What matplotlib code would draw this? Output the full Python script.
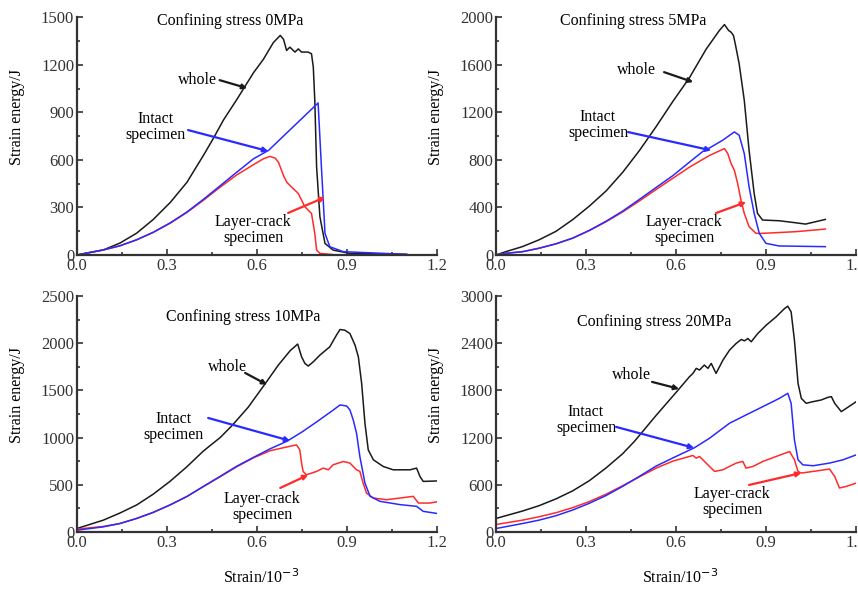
import numpy as np
import matplotlib
matplotlib.use('Agg')
import matplotlib.pyplot as plt

plt.rcParams['font.family'] = ['Liberation Serif', 'DejaVu Serif']

# ---- confining stress 0 MPa ----
s0_whole_x = [0, 0.03, 0.088, 0.143, 0.199, 0.254, 0.31, 0.366, 0.421, 0.454, 0.488, 0.532, 0.56,
              0.588, 0.621, 0.654, 0.677, 0.688, 0.698, 0.709, 0.726, 0.737, 0.748, 0.77, 0.781,
              0.787, 0.792, 0.798, 0.809, 0.826, 0.853, 0.909, 1.098]
s0_whole_y = [0, 12, 32, 75, 138, 224, 330, 458, 628, 735, 852, 980, 1065,
              1150, 1235, 1340, 1385, 1360, 1290, 1311, 1280, 1300, 1280, 1280, 1269,
              1185, 975, 556, 241, 73, 31, 10, 4]
s0_intact_x = [0, 0.032, 0.088, 0.143, 0.199, 0.254, 0.31, 0.366, 0.421, 0.477, 0.532, 0.588,
               0.638, 0.803, 0.814, 0.826, 0.842, 0.887, 1.098]
s0_intact_y = [0, 11, 32, 58, 96, 143, 202, 271, 351, 437, 522, 607,
               660, 959, 556, 136, 52, 21, 4]
s0_crack_x = [0, 0.032, 0.088, 0.143, 0.199, 0.254, 0.31, 0.366, 0.421, 0.477, 0.532, 0.588,
              0.621, 0.643, 0.66, 0.671, 0.688, 0.699, 0.714, 0.737, 0.759, 0.781, 0.792, 0.798,
              0.809, 0.85]
s0_crack_y = [0, 11, 32, 58, 96, 143, 200, 268, 345, 428, 505, 570,
              607, 622, 611, 585, 500, 458, 430, 388, 304, 262, 136, 31,
              10, 3]

# ---- confining stress 5 MPa ----
s5_whole_x = [0, 0.033, 0.089, 0.144, 0.2, 0.256, 0.311, 0.367, 0.422, 0.478, 0.533, 0.589, 0.644,
              0.7, 0.744, 0.761, 0.775, 0.783, 0.791, 0.797, 0.81, 0.827, 0.843, 0.86, 0.871,
              0.888, 0.943, 0.998, 1.031, 1.097]
s5_whole_y = [0, 28, 71, 128, 199, 298, 411, 539, 695, 879, 1078, 1291, 1489,
              1731, 1888, 1938, 1888, 1874, 1846, 1776, 1608, 1301, 881, 517, 350,
              294, 288, 271, 260, 299]
s5_intact_x = [0, 0.033, 0.089, 0.144, 0.2, 0.256, 0.311, 0.367, 0.422, 0.478, 0.533, 0.589,
               0.644, 0.689, 0.711, 0.755, 0.794, 0.81, 0.827, 0.843, 0.86, 0.877, 0.899,
               0.943, 1.097]
s5_intact_y = [0, 14, 28, 57, 94, 142, 207, 284, 369, 468, 567, 667,
               780, 871, 900, 965, 1035, 1007, 853, 573, 350, 182, 98,
               76, 70]
s5_crack_x = [0, 0.033, 0.089, 0.144, 0.2, 0.256, 0.311, 0.367, 0.422, 0.478, 0.533, 0.589,
              0.644, 0.711, 0.761, 0.772, 0.783, 0.794, 0.805, 0.816, 0.827, 0.843, 0.866,
              0.888, 0.998, 1.097]
s5_crack_y = [0, 14, 28, 57, 94, 142, 205, 280, 362, 455, 550, 645,
              738, 837, 895, 853, 769, 713, 601, 461, 350, 238, 182,
              182, 196, 218]

# ---- confining stress 10 MPa ----
s10_whole_x = [0, 0.088, 0.143, 0.199, 0.254, 0.31, 0.366, 0.421, 0.477, 0.516, 0.57, 0.627,
               0.67, 0.71, 0.735, 0.748, 0.759, 0.77, 0.787, 0.809, 0.842, 0.864, 0.876, 0.892,
               0.909, 0.926, 0.937, 0.948, 0.959, 0.97, 0.987, 1.02, 1.053, 1.109, 1.131, 1.142,
               1.153, 1.2]
s10_whole_y = [36, 125, 200, 286, 400, 536, 690, 857, 1000, 1125, 1320, 1571,
               1765, 1920, 1990, 1855, 1785, 1757, 1802, 1873, 1961, 2084, 2144, 2137,
               2101, 1978, 1855, 1573, 1151, 869, 764, 693, 658, 658, 676, 588,
               535, 540]
s10_intact_x = [0, 0.088, 0.143, 0.199, 0.254, 0.31, 0.366, 0.421, 0.477, 0.532, 0.588, 0.643,
                0.699, 0.75, 0.798, 0.853, 0.876, 0.898, 0.909, 0.92, 0.931, 0.942, 0.959,
                0.976, 1.009, 1.076, 1.131, 1.153, 1.2]
s10_intact_y = [18, 54, 89, 143, 207, 286, 375, 482, 589, 696, 790, 880,
                960, 1060, 1165, 1290, 1345, 1334, 1292, 1186, 1045, 799, 517,
                377, 324, 289, 271, 218, 195]
s10_crack_x = [0, 0.088, 0.143, 0.199, 0.254, 0.31, 0.366, 0.421, 0.477, 0.532, 0.588, 0.643,
               0.699, 0.731, 0.742, 0.748, 0.753, 0.764, 0.798, 0.82, 0.837, 0.853, 0.887,
               0.909, 0.931, 0.942, 0.953, 0.964, 0.987, 1.031, 1.076, 1.12, 1.137, 1.176, 1.2]
s10_crack_y = [30, 58, 89, 143, 207, 286, 375, 480, 585, 690, 785, 860,
               900, 922, 869, 729, 641, 605, 641, 676, 658, 711, 746,
               729, 658, 641, 517, 412, 359, 341, 359, 377, 306, 306, 320]

# ---- confining stress 20 MPa ----
s20_whole_x = [0, 0.089, 0.144, 0.2, 0.256, 0.311, 0.367, 0.422, 0.461, 0.533, 0.606, 0.644,
               0.656, 0.667, 0.678, 0.694, 0.706, 0.717, 0.733, 0.756, 0.778, 0.8, 0.817, 0.828,
               0.839, 0.85, 0.872, 0.9, 0.933, 0.961, 0.972, 0.983, 0.994, 1.006, 1.017, 1.033,
               1.056, 1.083, 1.106, 1.117, 1.128, 1.15, 1.167, 1.2]
s20_whole_y = [171, 266, 334, 420, 523, 651, 814, 994, 1150, 1479, 1800, 1971,
               2015, 2079, 2058, 2121, 2079, 2142, 2015, 2184, 2311, 2396, 2446, 2429,
               2459, 2417, 2522, 2628, 2734, 2839, 2869, 2797, 2438, 1889, 1698, 1635,
               1656, 1677, 1711, 1720, 1635, 1529, 1572, 1656]
s20_intact_x = [0, 0.089, 0.144, 0.2, 0.256, 0.311, 0.367, 0.422, 0.478, 0.533, 0.589, 0.661,
                0.711, 0.778, 0.833, 0.889, 0.944, 0.972, 0.983, 0.994, 1.006, 1.022, 1.056,
                1.111, 1.156, 1.2]
s20_intact_y = [43, 107, 150, 206, 279, 364, 463, 579, 707, 836, 940, 1070,
                1190, 1382, 1487, 1593, 1698, 1762, 1635, 1170, 917, 853, 841,
                875, 917, 980]
s20_crack_x = [0, 0.089, 0.144, 0.2, 0.256, 0.311, 0.367, 0.422, 0.478, 0.533, 0.589, 0.656,
               0.667, 0.678, 0.7, 0.728, 0.756, 0.8, 0.822, 0.833, 0.856, 0.889, 0.933, 0.978,
               0.994, 1.006, 1.017, 1.056, 1.111, 1.128, 1.144, 1.167, 1.2]
s20_crack_y = [94, 150, 193, 244, 309, 386, 480, 587, 700, 810, 900, 972,
               938, 959, 875, 769, 790, 875, 896, 811, 832, 896, 959, 1022,
               917, 769, 748, 769, 799, 706, 558, 579, 621]

titles = ['Confining stress 0MPa', 'Confining stress 5MPa',
          'Confining stress 10MPa', 'Confining stress 20MPa']
ymax = [1500, 2000, 2500, 3000]
ystep = [300, 400, 500, 600]

c_whole = '#1a1a1a'
c_intact = '#2a2aff'
c_crack = '#ff2a2a'

fig = plt.figure(figsize=(8.58, 5.93), dpi=100)
pos = [[0.0897, 0.570, 0.42, 0.401], [0.578, 0.570, 0.42, 0.401],
       [0.0897, 0.103, 0.42, 0.398], [0.578, 0.103, 0.42, 0.398]]

data = [(s0_whole_x, s0_whole_y, s0_intact_x, s0_intact_y, s0_crack_x, s0_crack_y),
        (s5_whole_x, s5_whole_y, s5_intact_x, s5_intact_y, s5_crack_x, s5_crack_y),
        (s10_whole_x, s10_whole_y, s10_intact_x, s10_intact_y, s10_crack_x, s10_crack_y),
        (s20_whole_x, s20_whole_y, s20_intact_x, s20_intact_y, s20_crack_x, s20_crack_y)]

# annotation layout per panel: (text xy, arrow start, arrow tip) in data coords
notes = [
    [((0.403, 1103), (0.475, 1103), (0.567, 1052)),
     ((0.26, 807), (0.37, 788), (0.637, 655)),
     ((0.587, 158), (0.703, 265), (0.827, 365))],
    [((0.467, 1555), (0.56, 1538), (0.657, 1454)),
     ((0.34, 1092), (0.44, 1034), (0.717, 880)),
     ((0.627, 210), (0.733, 353), (0.833, 445))],
    [((0.5, 1747), (0.56, 1684), (0.633, 1560)),
     ((0.32, 1112), (0.437, 1207), (0.71, 965)),
     ((0.617, 265), (0.677, 466), (0.77, 604))],
    [((0.453, 1996), (0.52, 1907), (0.61, 1818)),
     ((0.3, 1424), (0.4, 1335), (0.66, 1068)),
     ((0.787, 381), (0.843, 597), (1.017, 750))],
]
title_pos = [(0.425, 0.985), (0.38, 0.985), (0.461, 0.91), (0.439, 0.89)]

for i in range(4):
    ax = fig.add_axes(pos[i])
    wx, wy, ix, iy, cx, cy = data[i]
    ax.plot(wx, wy, color=c_whole, lw=1.1)
    ax.plot(cx, cy, color=c_crack, lw=1.1)
    ax.plot(ix, iy, color=c_intact, lw=1.1)
    ax.set_xlim(0, 1.2)
    ax.set_ylim(0, ymax[i])
    ax.set_xticks([0, 0.3, 0.6, 0.9, 1.2])
    ax.set_xticklabels(['0.0', '0.3', '0.6', '0.9', '1.2'])
    ax.set_xticks(np.arange(0.15, 1.2, 0.3), minor=True)
    ax.set_yticks(np.arange(0, ymax[i] + 1, ystep[i]))
    ax.set_yticks(np.arange(ystep[i] / 2, ymax[i], ystep[i]), minor=True)
    ax.spines['top'].set_visible(False)
    ax.spines['right'].set_visible(False)
    for s in ['left', 'bottom']:
        ax.spines[s].set_linewidth(1.6)
        ax.spines[s].set_color('#333333')
    ax.tick_params(which='major', direction='in', length=4, width=1.2, labelsize=12, pad=2,
                   colors='#333333')
    ax.tick_params(which='minor', direction='in', length=2.5, width=1.2, colors='#333333')
    ax.set_ylabel('Strain energy/J', fontsize=11.5)
    ax.yaxis.set_label_coords(-0.145, 0.58)
    if i >= 2:
        ax.set_xlabel('Strain/10$^{-3}$', fontsize=11.5)
        ax.xaxis.set_label_coords(0.51, -0.155)
    ax.text(title_pos[i][0], title_pos[i][1], titles[i], transform=ax.transAxes,
            ha='center', va='center', fontsize=11.5)

    labels = ['whole', 'Intact\nspecimen', 'Layer-crack\nspecimen']
    colors = [c_whole, c_intact, c_crack]
    for (txy, start, tip), lab, col in zip(notes[i], labels, colors):
        ax.text(txy[0], txy[1], lab, ha='center', va='center', fontsize=11.5,
                linespacing=1.0)
        ax.annotate('', xy=tip, xytext=start,
                    arrowprops=dict(arrowstyle='-|>', color=col, lw=1.6,
                                    mutation_scale=7, shrinkA=0, shrinkB=0))

fig.savefig('out.png', dpi=100)
